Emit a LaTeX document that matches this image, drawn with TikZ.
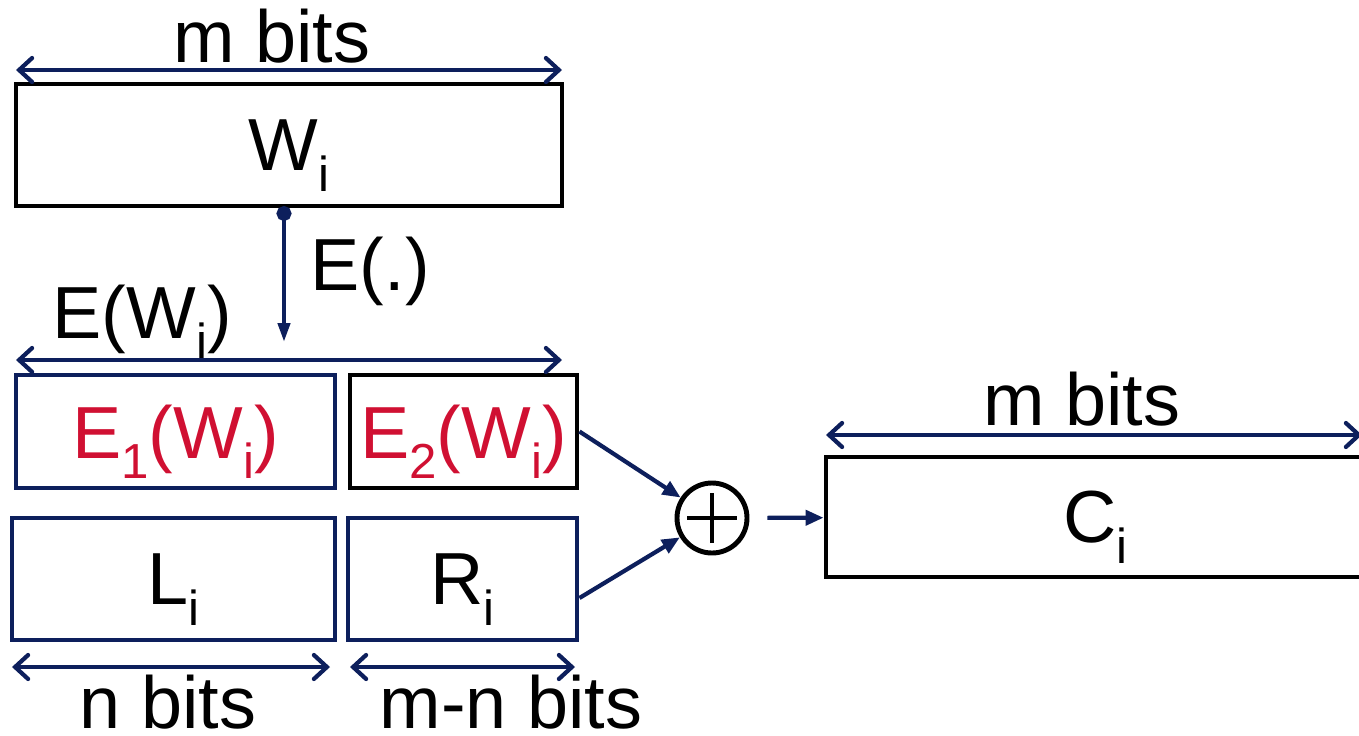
\documentclass[tikz,border=0pt]{standalone}
\usepackage{fontspec}
\setmainfont{Liberation Sans}
\usetikzlibrary{arrows.meta}
\usetikzlibrary{positioning}
\definecolor{navy}{RGB}{13,31,92}
\definecolor{crimson}{RGB}{208,16,50}
\newcommand{\subtxt}[1]{\raisebox{-0.28em}{\fontsize{14}{16}\selectfont #1}}

\begin{document}
\begin{tikzpicture}[
  bigfont/.style={font=\fontsize{21}{25}\selectfont},
  lbl/.style={bigfont,inner sep=0pt},
  field/.style={rectangle,draw,line width=1.4pt,inner sep=0pt,text depth=0pt,bigfont},
  sizearrow/.style={navy,line width=1.2pt,line cap=round,{Straight Barb[length=1.3mm,width=2.4mm,line cap=round]}-{Straight Barb[length=1.3mm,width=2.4mm,line cap=round]}},
  link/.style={navy,line width=1.2pt,-{Triangle[length=1.8mm,width=1.5mm]}},
  xorgate/.style={circle,draw,line width=1.4pt,minimum size=0.7cm,inner sep=0pt}
]
\useasboundingbox (0,0) rectangle (13.59,7.35);

\node[field,minimum width=5.46cm,minimum height=1.22cm] (W) at (2.89,5.90) {W\subtxt{i}};
\node[field,draw=navy,text=crimson,minimum width=3.19cm,minimum height=1.13cm] (E1) at (1.755,3.035) {E\subtxt{1}(W\subtxt{i})};
\node[field,text=crimson,minimum width=2.27cm,minimum height=1.13cm] (E2) at (4.635,3.035) {E\subtxt{2}(W\subtxt{i})};
\node[field,draw=navy,minimum width=3.23cm,minimum height=1.22cm] (L) at (1.735,1.56) {L\subtxt{i}};
\node[field,draw=navy,minimum width=2.29cm,minimum height=1.22cm] (R) at (4.625,1.56) {R\subtxt{i}};
\node[xorgate] (xor) at (7.12,2.17) {};
\draw[line width=1.4pt] ([xshift=-2.5mm]xor.center) -- ([xshift=2.5mm]xor.center);
\draw[line width=1.4pt] ([yshift=-2.5mm]xor.center) -- ([yshift=2.5mm]xor.center);
\node[field,minimum width=5.39cm,minimum height=1.20cm] (C) at (10.955,2.18) {C\subtxt{i}};

\coordinate (wtop) at (2.84,5.29);
\coordinate (wend) at (2.84,3.93);
\draw[navy,line width=1.2pt,{Circle[length=1.5mm]}-{Triangle[length=1.9mm,width=1.2mm]}] (wtop) -- (wend);

\draw[link] (E2.east) -- (xor);
\draw[link] ([yshift=-1.9mm]R.east) -- (xor);
\draw[link,shorten <=1.8mm] (xor) -- (C);

\coordinate (mtl) at (0.16,6.65);
\coordinate (mtr) at (5.62,6.65);
\draw[sizearrow] (mtl) -- (mtr);
\coordinate (ewl) at (0.16,3.75);
\coordinate (ewr) at (5.62,3.75);
\draw[sizearrow] (ewl) -- (ewr);
\coordinate (nl) at (0.12,0.68);
\coordinate (nr) at (3.30,0.68);
\draw[sizearrow] (nl) -- (nr);
\coordinate (mnl) at (3.50,0.68);
\coordinate (mnr) at (5.75,0.68);
\draw[sizearrow] (mnl) -- (mnr);
\coordinate (cl) at (8.26,3.00);
\coordinate (cr) at (13.62,3.00);
\draw[sizearrow] (cl) -- (cr);

\node[lbl,anchor=base] at (2.72,6.73) {m bits};
\node[lbl,anchor=base west] at (0.52,3.97) {E(W\subtxt{i})};
\node[lbl,anchor=base west] at (3.10,4.45) {E(.)};
\node[lbl,anchor=base] at (1.68,0.07) {n bits};
\node[lbl,anchor=base] at (5.11,0.07) {m-n bits};
\node[lbl,anchor=base] at (10.82,3.10) {m bits};

\end{tikzpicture}
\end{document}
